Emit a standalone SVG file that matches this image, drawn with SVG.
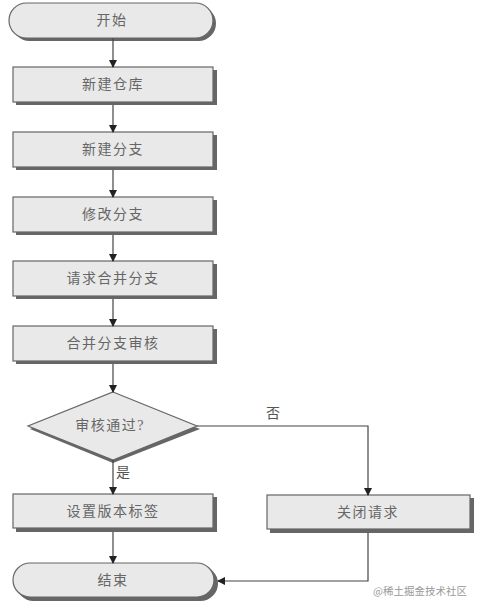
<svg xmlns="http://www.w3.org/2000/svg" width="479" height="612" viewBox="0 0 479 612">
<defs>
<marker id="arr" markerWidth="8" markerHeight="8" refX="7" refY="4" orient="auto" markerUnits="userSpaceOnUse">
<path d="M0,0 L8,4 L0,8 Z" fill="#222"/>
</marker>
<style>
.sh{fill:#666;}
.bx{fill:#e9e9e9;stroke:#666;stroke-width:1.2;}
.t{font-family:"Liberation Serif","Noto Sans CJK SC",serif;font-size:14px;fill:#666;text-anchor:middle;dominant-baseline:central;letter-spacing:1.5px;}
.c{fill:none;stroke:#444;stroke-width:1.2;}
.lb{font-family:"Liberation Serif","Noto Sans CJK SC",serif;font-size:14px;fill:#555;}
</style>
</defs>
<rect width="479" height="612" fill="#fff"/>
<g id="start">
<rect class="sh" x="12" y="6" width="204" height="35" rx="17.5"/>
<rect class="bx" x="9" y="3" width="204" height="35" rx="17.5"/>
<text class="t" x="112" y="20">开始</text>
</g>
<g id="n1">
<rect class="sh" x="16" y="70" width="201" height="35"/>
<rect class="bx" x="13" y="67" width="200" height="35"/>
<text class="t" x="113" y="84">新建仓库</text>
</g>
<g id="n2">
<rect class="sh" x="16" y="135" width="201" height="35"/>
<rect class="bx" x="13" y="132" width="200" height="35"/>
<text class="t" x="113" y="149">新建分支</text>
</g>
<g id="n3">
<rect class="sh" x="16" y="200" width="201" height="35"/>
<rect class="bx" x="13" y="197" width="200" height="35"/>
<text class="t" x="113" y="214">修改分支</text>
</g>
<g id="n4">
<rect class="sh" x="16" y="264" width="201" height="35"/>
<rect class="bx" x="13" y="261" width="200" height="35"/>
<text class="t" x="113" y="278">请求合并分支</text>
</g>
<g id="n5">
<rect class="sh" x="16" y="329" width="201" height="35"/>
<rect class="bx" x="13" y="326" width="200" height="35"/>
<text class="t" x="113" y="343">合并分支审核</text>
</g>
<g id="decision">
<polygon class="sh" points="113,395 200,429 113,463 30,429"/>
<polygon class="bx" points="113,392 197,426 113,460 28,426"/>
<text class="t" x="110" y="425">审核通过?</text>
</g>
<g id="n6">
<rect class="sh" x="16" y="497" width="201" height="35"/>
<rect class="bx" x="13" y="494" width="200" height="34"/>
<text class="t" x="113" y="511">设置版本标签</text>
</g>
<g id="n7">
<rect class="sh" x="270" y="498" width="204" height="35"/>
<rect class="bx" x="267" y="495" width="203" height="34"/>
<text class="t" x="368" y="512">关闭请求</text>
</g>
<g id="end">
<rect class="sh" x="16" y="566" width="202" height="35" rx="17.5"/>
<rect class="bx" x="13" y="563" width="201" height="34" rx="17"/>
<text class="t" x="113" y="580">结束</text>
</g>
<g id="connectors">
<line class="c" x1="113" y1="38" x2="113" y2="67" marker-end="url(#arr)"/>
<line class="c" x1="113" y1="105" x2="113" y2="132" marker-end="url(#arr)"/>
<line class="c" x1="113" y1="170" x2="113" y2="197" marker-end="url(#arr)"/>
<line class="c" x1="113" y1="235" x2="113" y2="261" marker-end="url(#arr)"/>
<line class="c" x1="113" y1="299" x2="113" y2="326" marker-end="url(#arr)"/>
<line class="c" x1="113" y1="364" x2="113" y2="392" marker-end="url(#arr)"/>
<line class="c" x1="113" y1="460" x2="113" y2="494" marker-end="url(#arr)"/>
<polyline class="c" points="197,426 368,426 368,495" marker-end="url(#arr)"/>
<line class="c" x1="113" y1="532" x2="113" y2="563" marker-end="url(#arr)"/>
<polyline class="c" points="368,533 368,581 218,581" marker-end="url(#arr)"/>
<text class="lb" x="266" y="418">否</text>
<text class="lb" x="116" y="477">是</text>
</g>
<text x="373" y="595" font-family="Noto Sans CJK SC,sans-serif" font-size="10.5" fill="#999">@稀土掘金技术社区</text>
</svg>
